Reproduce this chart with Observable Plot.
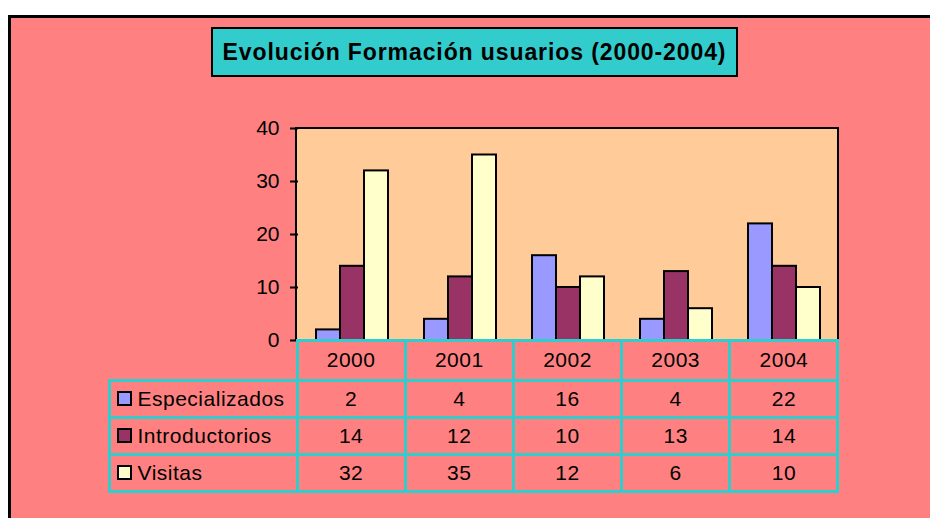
<!DOCTYPE html>
<html>
<head>
<meta charset="utf-8">
<script src="https://cdn.jsdelivr.net/npm/d3@7"></script>
<script src="https://cdn.jsdelivr.net/npm/@observablehq/plot@0.6"></script>
<style>
  html, body { margin: 0; padding: 0; background: #ffffff; width: 930px; height: 518px; overflow: hidden; }
  body { position: relative; font-family: "Liberation Sans", Arial, sans-serif; }
  .abs { position: absolute; box-sizing: border-box; }
  svg [aria-label^="y-axis"] path, svg [aria-label^="y-axis"] line { stroke-width: 2px; }
</style>
</head>
<body>
<script>
// ---- data ----
const years = ["2000", "2001", "2002", "2003", "2004"];
const seriesNames = ["Especializados", "Introductorios", "Visitas"];
const especializados = [2, 4, 16, 4, 22];
const introductorios = [14, 12, 10, 13, 14];
const visitas = [32, 35, 12, 6, 10];
const seriesColors = ["#9999FF", "#993366", "#FFFFCC"];
const yTicks = [0, 10, 20, 30, 40];
const titleText = "Evolución Formación usuarios (2000-2004)";

const seriesValues = [especializados, introductorios, visitas];
const rows = [];
years.forEach((yr, i) => seriesNames.forEach((s, j) => rows.push({year: yr, series: s, value: seriesValues[j][i]})));

// ---- layout ----
const W = 930, H = 518;
const plotL = 297, plotR = 838, plotT = 128, plotB = 340;

function box(css) {
  const d = document.createElement("div");
  d.className = "abs";
  Object.assign(d.style, css);
  document.body.appendChild(d);
  return d;
}

// outer chart area
box({left: "8px", top: "15px", width: "940px", height: "520px", background: "#FF8080",
     borderLeft: "3px solid #000", borderTop: "3px solid #000"});
// plot area background
box({left: (plotL - 2) + "px", top: (plotT - 1) + "px", width: (plotR - plotL + 3) + "px", height: (plotB - plotT + 1) + "px",
     background: "#FFCC99", borderLeft: "2px solid #000", borderTop: "2px solid #000", borderRight: "2px solid #000"});

// chart
const chart = Plot.plot({
  width: W,
  height: H,
  marginLeft: plotL,
  marginRight: W - plotR,
  marginTop: plotT,
  marginBottom: H - plotB,
  style: {background: "transparent", fontFamily: "Liberation Sans, Arial, sans-serif", fontSize: "21px", color: "#000", overflow: "visible"},
  fx: {domain: years, axis: null, padding: 0},
  x: {domain: seriesNames, axis: null, paddingInner: 0, paddingOuter: 0.75},
  y: {domain: [0, 40], ticks: yTicks, tickSize: 8, tickPadding: 11, label: null},
  color: {domain: seriesNames, range: seriesColors},
  marks: [
    Plot.barY(rows, {fx: "year", x: "series", y: "value", fill: "series", stroke: "#000", strokeWidth: 2, inset: 0})
  ]
});
chart.style.position = "absolute";
chart.style.left = "0px";
chart.style.top = "0px";
document.body.appendChild(chart);

// data table
const colX = [109, 297];
for (let i = 1; i <= years.length; i++) colX.push(297 + i * (plotR - 297) / years.length);
const rowY = [340, 380, 417, 454, 491];
const teal = "#33CCCC";

function cell(c, r, content, extra) {
  const x0 = colX[c], x1 = colX[c + 1], y0 = rowY[r], y1 = rowY[r + 1];
  const d = box(Object.assign({
    left: (x0 - 1.5) + "px", top: (y0 - 1.5) + "px", width: (x1 - x0 + 3) + "px", height: (y1 - y0 + 3) + "px",
    border: "3px solid " + teal, display: "flex", alignItems: "center", justifyContent: "center",
    fontSize: "21px", letterSpacing: "0.5px", color: "#000", whiteSpace: "nowrap"
  }, extra || {}));
  if (typeof content === "string") d.textContent = content; else d.appendChild(content);
  return d;
}
years.forEach((yr, i) => cell(i + 1, 0, yr));
seriesNames.forEach((s, j) => {
  const wrap = document.createElement("div");
  wrap.style.display = "flex";
  wrap.style.alignItems = "center";
  const sw = document.createElement("div");
  Object.assign(sw.style, {width: "15px", height: "15px", boxSizing: "border-box", border: "2px solid #000", background: seriesColors[j], marginRight: "6px"});
  const t = document.createElement("span");
  t.textContent = s;
  wrap.appendChild(sw); wrap.appendChild(t);
  cell(0, j + 1, wrap, {justifyContent: "flex-start", paddingLeft: "6px"});
  years.forEach((yr, i) => cell(i + 1, j + 1, String(seriesValues[j][i])));
});

// title
box({left: "211px", top: "27px", width: "527px", height: "50px", background: "#33CCCC", border: "2px solid #000",
     display: "flex", alignItems: "center", justifyContent: "center", fontWeight: "bold", fontSize: "23px", letterSpacing: "0.9px", color: "#000",
     whiteSpace: "nowrap"}).textContent = titleText;
</script>
</body>
</html>
